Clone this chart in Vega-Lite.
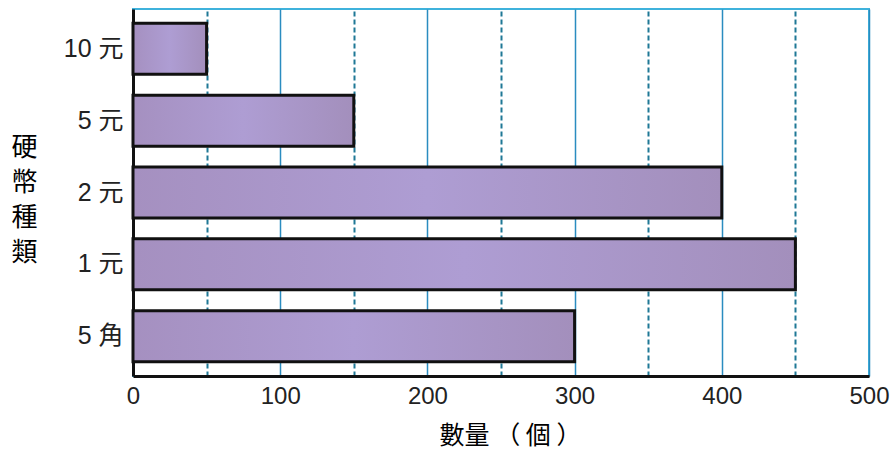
{
  "$schema": "https://vega.github.io/schema/vega-lite/v6.json",
  "width": 736,
  "height": 367,
  "autosize": {"type": "none"},
  "padding": {"left": 133, "top": 9, "right": 24, "bottom": 85},
  "background": "white",
  "config": {
    "font": "Liberation Sans, Noto Sans CJK TC, sans-serif",
    "view": {"stroke": "#3fb2dc", "strokeWidth": 2}
  },
  "data": {
    "values": [
      {"coin": "10 元", "count": 50},
      {"coin": "5 元", "count": 150},
      {"coin": "2 元", "count": 400},
      {"coin": "1 元", "count": 450},
      {"coin": "5 角", "count": 300}
    ]
  },
  "mark": {
    "type": "bar",
    "stroke": "#111111",
    "strokeWidth": 3,
    "color": {
      "x1": 0, "y1": 0, "x2": 1, "y2": 0,
      "gradient": "linear",
      "stops": [
        {"offset": 0, "color": "#a590c0"},
        {"offset": 0.5, "color": "#ae9dd3"},
        {"offset": 1, "color": "#a38fbc"}
      ]
    }
  },
  "encoding": {
    "y": {
      "field": "coin",
      "type": "nominal",
      "sort": null,
      "scale": {"paddingInner": 0.29, "paddingOuter": 0.2},
      "axis": {
        "title": ["硬", "幣", "種", "類"],
        "titleFont": "Noto Sans CJK TC",
        "titleAngle": 0,
        "titleAlign": "center",
        "titleBaseline": "top",
        "titleX": -109,
        "titleY": 125,
        "titleLineHeight": 35,
        "titleFontSize": 26,
        "titleFontWeight": "normal",
        "titleColor": "#000000",
        "labelFontSize": 25,
        "labelColor": "#222222",
        "labelPadding": 10,
        "ticks": false,
        "domainColor": "#111111",
        "domainWidth": 3,
        "grid": false
      }
    },
    "x": {
      "field": "count",
      "type": "quantitative",
      "scale": {"domain": [0, 500], "nice": false},
      "axis": {
        "title": "數量 （ 個 ）",
        "titleFont": "Noto Sans CJK TC",
        "titleFontSize": 25,
        "titleFontWeight": "normal",
        "titleColor": "#000000",
        "titlePadding": 15,
        "titleX": 377,
        "values": [0, 50, 100, 150, 200, 250, 300, 350, 400, 450, 500],
        "labelExpr": "datum.value % 100 === 0 ? datum.label : ''",
        "labelFontSize": 24,
        "labelColor": "#222222",
        "labelPadding": 8,
        "labelFlush": false,
        "ticks": false,
        "domainColor": "#111111",
        "domainWidth": 3,
        "grid": true,
        "gridColor": {"condition": {"test": "datum.value % 100 !== 0", "value": "#1f7896"}, "value": "#2a8cc0"},
        "gridDash": {"condition": {"test": "datum.value % 100 !== 0", "value": [5, 3]}, "value": []},
        "gridWidth": {"condition": {"test": "datum.value % 100 !== 0", "value": 2}, "value": 1.5},
        "gridOpacity": 1
      }
    }
  }
}
